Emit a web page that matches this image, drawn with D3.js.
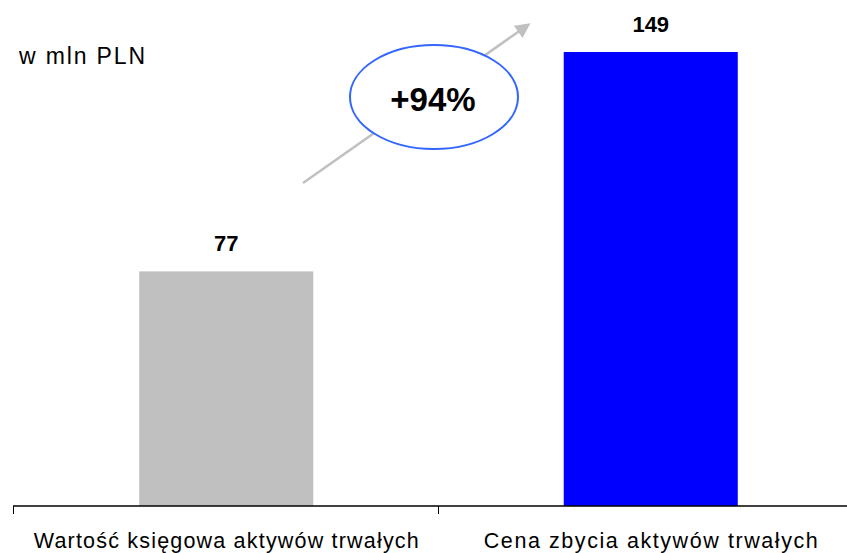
<!DOCTYPE html>
<html>
<head>
<meta charset="utf-8">
<script src="https://cdn.jsdelivr.net/npm/d3@7"></script>
<style>
body { margin: 0; background: #fff; }
text { font-family: Arial, "Liberation Sans", sans-serif; }
</style>
</head>
<body>
<div id="chart"></div>
<script>
var categories = ["Wartość księgowa aktywów trwałych", "Cena zbycia aktywów trwałych"];
var values = [77, 149];
var barColors = ["#c0c0c0", "#0000ff"];
var unitLabel = "w mln PLN";
var changeLabel = "+94%";

function drawChart(id) {
	var W = 847, H = 553, baseY = 506;
	var labelWidths = [385, 334];
	var svg = d3.select(id).append("svg")
		.attr("width", W)
		.attr("height", H);

	var x = d3.scaleBand().domain(categories).range([14, 863]).padding(0);
	var y = d3.scaleLinear().domain([0, 149]).range([baseY, 52]);
	var bw = x.bandwidth() * 0.41;

	svg.selectAll(".bar").data(values).enter().append("rect")
		.attr("x", function(d, i) { return x(categories[i]) + x.bandwidth() / 2 - bw / 2; })
		.attr("y", function(d) { return y(d); })
		.attr("width", bw)
		.attr("height", function(d) { return baseY - y(d); })
		.attr("fill", function(d, i) { return barColors[i]; });

	svg.selectAll(".val").data(values).enter().append("text")
		.attr("x", function(d, i) { return x(categories[i]) + x.bandwidth() / 2; })
		.attr("y", function(d) { return y(d) - 20; })
		.attr("text-anchor", "middle")
		.attr("font-size", 22)
		.attr("font-weight", "bold")
		.text(function(d) { return d; });

	// axis: line + ticks at band edges
	var axis = svg.append("g");
	axis.append("line")
		.attr("x1", 13).attr("x2", W).attr("y1", baseY).attr("y2", baseY)
		.attr("stroke", "#000").attr("stroke-width", 1.5);
	axis.selectAll(".tick").data(categories).enter().append("line")
		.attr("x1", function(d) { return Math.round(x(d)) - 0.5; })
		.attr("x2", function(d) { return Math.round(x(d)) - 0.5; })
		.attr("y1", baseY).attr("y2", baseY + 8)
		.attr("stroke", "#000").attr("stroke-width", 1);
	axis.selectAll(".lab").data(categories).enter().append("text")
		.attr("x", function(d) { return x(d) + x.bandwidth() / 2; })
		.attr("y", 548)
		.attr("text-anchor", "middle")
		.attr("font-size", 21.5)
		.attr("textLength", function(d, i) { return labelWidths[i]; })
		.attr("lengthAdjust", "spacing")
		.text(function(d) { return d; });

	svg.append("text")
		.attr("x", 19).attr("y", 64)
		.attr("font-size", 23)
		.attr("textLength", 126)
		.attr("lengthAdjust", "spacing")
		.text(unitLabel);

	// growth arrow
	svg.append("defs").append("marker")
		.attr("id", "ah")
		.attr("viewBox", "0 0 10 10")
		.attr("refX", 8).attr("refY", 5)
		.attr("markerWidth", 6).attr("markerHeight", 6)
		.attr("orient", "auto")
		.append("path").attr("d", "M0,0L10,5L0,10Z").attr("fill", "#c0c0c0");
	svg.append("line")
		.attr("x1", 303).attr("y1", 183).attr("x2", 528).attr("y2", 25)
		.attr("stroke", "#c0c0c0").attr("stroke-width", 2.5)
		.attr("marker-end", "url(#ah)");

	svg.append("ellipse")
		.attr("cx", 434).attr("cy", 97).attr("rx", 84).attr("ry", 52)
		.attr("fill", "#fff").attr("stroke", "#3366ff").attr("stroke-width", 2);
	svg.append("text")
		.attr("x", 433).attr("y", 111)
		.attr("text-anchor", "middle")
		.attr("font-size", 33)
		.attr("font-weight", "bold")
		.text(changeLabel);
}

window.onload = function () {
	drawChart("#chart");
};
</script>
</body>
</html>
